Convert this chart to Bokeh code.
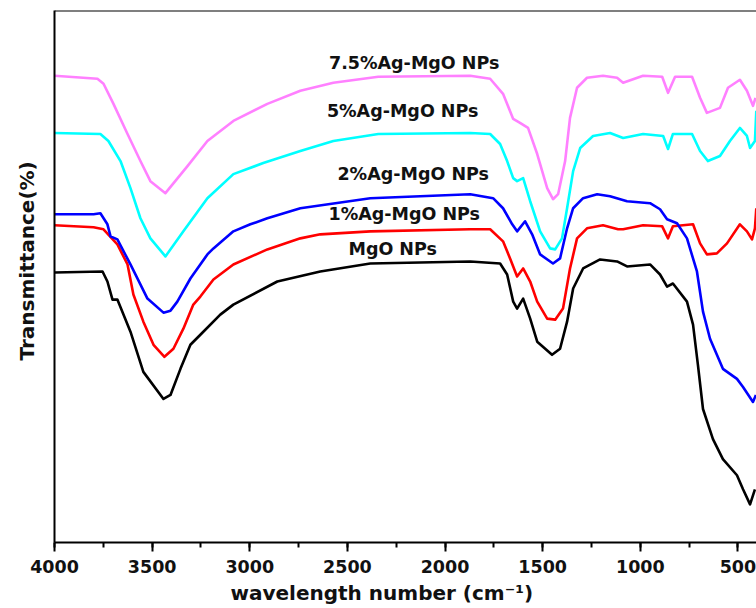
import math
from bokeh.plotting import figure
from bokeh.models import Range1d, SingleIntervalTicker, FixedTicker, Span, Title
from bokeh.embed import file_html
from bokeh.resources import INLINE
from bokeh.core.properties import value

# ---- data (wavenumber cm^-1, transmittance in arbitrary units) ----
wn_mgo = [4000, 3754, 3729, 3703, 3678, 3611, 3545, 3442, 3406, 3355, 3304, 3253, 3151, 3084, 2859, 2639, 2383,
          1871, 1718, 1682, 1651, 1631, 1600, 1564, 1528, 1452, 1411, 1375, 1344, 1293, 1206, 1119, 1068, 950,
          899, 863, 833, 761, 730, 705, 679, 628, 577, 505, 474, 438, 413]
t_mgo = [269, 270, 260, 242, 242, 210, 170, 143, 147, 173, 197, 207, 227, 237, 260, 270, 278,
         280, 278, 267, 240, 233, 243, 223, 200, 187, 193, 220, 253, 273, 282, 280, 275, 277,
         267, 255, 258, 240, 217, 177, 133, 103, 83, 67, 53, 38, 53]

wn_ag1 = [4000, 3800, 3749, 3678, 3626, 3596, 3545, 3493, 3437, 3391, 3340, 3289, 3253, 3186, 3084, 2910, 2741,
          2639, 2383, 1871, 1769, 1703, 1667, 1631, 1600, 1564, 1528, 1477, 1436, 1396, 1360, 1324, 1273, 1191,
          1114, 1088, 986, 888, 858, 833, 730, 694, 659, 608, 556, 490, 454, 428, 413, 406]
t_ag1 = [316, 314, 312, 297, 277, 247, 220, 197, 185, 193, 213, 237, 245, 262, 277, 292, 303,
         307, 310, 312, 312, 300, 283, 265, 273, 260, 240, 223, 222, 233, 273, 303, 313, 316,
         312, 312, 316, 315, 303, 315, 317, 298, 287, 288, 298, 317, 310, 302, 313, 333]

wn_ag2 = [4000, 3800, 3765, 3729, 3713, 3678, 3611, 3524, 3442, 3406, 3371, 3304, 3217, 3186, 3084, 2997, 2910,
          2741, 2383, 1871, 1754, 1703, 1656, 1631, 1590, 1554, 1513, 1447, 1411, 1375, 1344, 1293, 1221, 1155,
          1068, 950, 899, 863, 812, 761, 710, 679, 643, 577, 505, 474, 423, 408]
t_ag2 = [327, 327, 328, 317, 305, 302, 277, 243, 229, 231, 240, 263, 287, 293, 310, 317, 323,
         333, 343, 347, 343, 333, 317, 310, 320, 307, 287, 278, 283, 313, 333, 343, 347, 345,
         340, 338, 332, 322, 318, 303, 270, 230, 203, 173, 163, 155, 140, 147]

wn_ag5 = [4000, 3765, 3724, 3662, 3611, 3560, 3509, 3432, 3340, 3217, 3084, 2931, 2741, 2572, 2342, 1871, 1769,
          1718, 1682, 1651, 1631, 1600, 1564, 1513, 1462, 1436, 1401, 1375, 1344, 1308, 1242, 1155, 1088, 986,
          883, 858, 833, 735, 694, 654, 592, 541, 490, 454, 438, 413, 406]
t_ag5 = [408, 407, 400, 380, 353, 323, 303, 285, 310, 343, 367, 378, 390, 400, 407, 408, 407,
         397, 380, 363, 360, 363, 340, 310, 293, 292, 303, 333, 370, 393, 405, 408, 403, 407,
         405, 392, 407, 407, 390, 380, 385, 400, 413, 405, 393, 400, 430]

wn_ag75 = [4000, 3780, 3749, 3698, 3626, 3560, 3509, 3432, 3319, 3217, 3084, 2910, 2741, 2572, 2342, 1871, 1769,
           1703, 1651, 1616, 1575, 1528, 1477, 1447, 1421, 1385, 1360, 1324, 1273, 1191, 1119, 1088, 986, 888,
           858, 822, 735, 694, 659, 592, 551, 490, 454, 423, 410]
t_ag75 = [465, 462, 457, 437, 407, 380, 360, 348, 375, 400, 420, 437, 450, 458, 464, 465, 462,
          447, 422, 418, 413, 387, 353, 342, 347, 380, 423, 453, 463, 465, 463, 458, 465, 464,
          448, 464, 464, 443, 428, 433, 453, 461, 450, 435, 443]

series_names = ["MgO NPs", "1%Ag-MgO NPs", "2%Ag-MgO NPs", "5%Ag-MgO NPs", "7.5%Ag-MgO NPs"]
series_colors = ["#000000", "#FF0000", "#0000FF", "#00FFFF", "#FF80FF"]

# label anchor positions (data units)
label_x = [2268, 2209, 2163, 2217, 2158]
label_y = [292, 327, 367, 430, 478]

x_title = "wavelength number (cm\u207b\u00b9)"
y_title = "Transmittance(%)"

FONT = "DejaVu Sans"

p = figure(width=756, height=608, output_backend="svg", toolbar_location=None,
           x_range=Range1d(4000, 405), y_range=Range1d(0, 530),
           min_border_left=54, min_border_right=0, min_border_top=10, min_border_bottom=66)
p.outline_line_color = None
p.xgrid.visible = False
p.ygrid.visible = False
p.background_fill_color = "white"
p.border_fill_color = "white"

all_wn = [wn_mgo, wn_ag1, wn_ag2, wn_ag5, wn_ag75]
all_t = [t_mgo, t_ag1, t_ag2, t_ag5, t_ag75]
for xs, ys, c in zip(all_wn, all_t, series_colors):
    p.line(xs, ys, line_color=c, line_width=2.6, line_join="round")

p.text(x=label_x, y=label_y, text=series_names, text_font=value(FONT), text_font_style="bold",
       text_font_size="17.5px", text_align="center", text_baseline="middle", text_color="#111111")

# x axis
p.xaxis.ticker = SingleIntervalTicker(interval=500, num_minor_ticks=2)
p.xaxis.axis_line_width = 2
p.xaxis.major_tick_line_width = 2
p.xaxis.minor_tick_line_width = 2
p.xaxis.major_tick_out = 9
p.xaxis.major_tick_in = 0
p.xaxis.minor_tick_out = 5
p.xaxis.minor_tick_in = 0
p.xaxis.major_label_standoff = 8
p.xaxis.major_label_text_font = FONT
p.xaxis.major_label_text_font_style = "bold"
p.xaxis.major_label_text_font_size = "17.5px"
p.xaxis.major_label_text_color = "#111111"

# y axis: line only
p.yaxis.ticker = FixedTicker(ticks=[])
p.yaxis.axis_line_width = 2
p.yaxis.major_tick_line_color = None
p.yaxis.minor_tick_line_color = None

# top border
p.add_layout(Span(location=530, dimension="width", line_color="black", line_width=2))

# axis titles
p.add_layout(Title(text=x_title, align="left", offset=176, standoff=7, text_font=FONT,
                   text_font_style="bold", text_font_size="20px", text_color="#111111"), "below")
p.add_layout(Title(text=y_title, align="left", offset=182, vertical_align="top", standoff=27,
                   text_font=FONT, text_font_style="bold", text_font_size="20px",
                   text_color="#111111"), "left")

open("out.html", "w").write(file_html(p, INLINE))
